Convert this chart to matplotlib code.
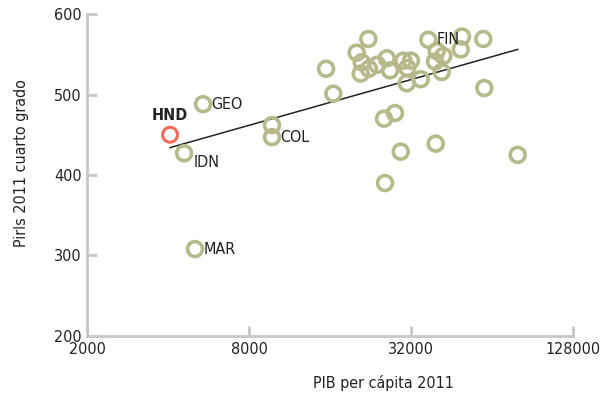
import numpy as np
import matplotlib.pyplot as plt

plt.rcParams['font.family'] = ['DejaVu Sans']
plt.rcParams['font.stretch'] = 'condensed'

# PIB per cápita 2011 (x) y puntaje Pirls 2011 (y)
gdp = [5400, 4590, 5040, 9740, 9740,
       15470, 16460, 20100, 22210, 20980, 20810, 22330, 23980, 26000, 26740,
       29960, 32000, 31000, 30840, 34760, 37120, 39300, 41620, 42200, 39860,
       49520, 48960, 59400, 59920,
       25400, 27900, 29300, 39540, 25620, 79740]
pirls = [488, 427, 308, 462, 447,
         532, 501, 552, 569, 540, 526, 532, 537, 545, 530,
         542, 542, 533, 514, 519, 568, 541, 528, 548, 554,
         572, 556, 569, 508,
         470, 477, 429, 439, 390, 425]

hnd_gdp = 4070
hnd_pirls = 450

# etiquetas: (pais, x, y)
labels = [('GEO', 5400, 488), ('IDN', 4590, 427), ('MAR', 5040, 308),
          ('COL', 9740, 447), ('FIN', 37120, 568)]

# recta de tendencia (extremos)
trend_x = [4070, 79740]
trend_y = [434, 556]

olive = '#b7b98a'
grey = '#c8c8c8'
fs = 11.5

fig = plt.figure(figsize=(6.01, 3.98), dpi=100)
ax = fig.add_axes([0.1448, 0.1558, 0.8086, 0.809])

ax.plot(trend_x, trend_y, color='#222222', lw=1.1, zorder=2)
ax.scatter(gdp, pirls, s=115, facecolors='none', edgecolors=olive,
           linewidths=2.6, zorder=3)
ax.scatter([hnd_gdp], [hnd_pirls], s=115, facecolors='none',
           edgecolors='#f26b5b', linewidths=2.2, zorder=4)

for name, x, y in labels:
    if name == 'IDN':
        ax.annotate(name, (x, y), xytext=(7, -7), textcoords='offset points',
                    va='center', ha='left', fontsize=fs, color='#222222')
    else:
        ax.annotate(name, (x, y), xytext=(6, 0), textcoords='offset points',
                    va='center', ha='left', fontsize=fs, color='#222222')
ax.annotate('HND', (hnd_gdp, hnd_pirls), xytext=(0, 14),
            textcoords='offset points', va='center', ha='center',
            fontsize=fs, fontweight='bold', color='#222222')

ax.set_xscale('log', base=2)
ax.set_xlim(2000, 128000)
ax.set_ylim(200, 600)
ax.set_xticks([2000, 8000, 32000, 128000])
ax.set_xticklabels(['2000', '8000', '32000', '128000'])
ax.xaxis.set_minor_locator(plt.NullLocator())
ax.set_yticks([200, 300, 400, 500, 600])

for s in ['top', 'right']:
    ax.spines[s].set_visible(False)
for s in ['left', 'bottom']:
    ax.spines[s].set_color(grey)
    ax.spines[s].set_linewidth(2)
ax.tick_params(direction='in', length=7, width=2, color=grey,
               labelsize=fs, labelcolor='#222222', pad=4)

ax.text(0.609, -0.146, 'PIB per cápita 2011', transform=ax.transAxes,
        ha='center', va='center', fontsize=fs, color='#222222')
ax.text(-0.134, 0.537, 'Pirls 2011 cuarto grado', transform=ax.transAxes,
        ha='center', va='center', rotation=90, fontsize=fs, color='#222222')

fig.savefig('out.png', dpi=100)
